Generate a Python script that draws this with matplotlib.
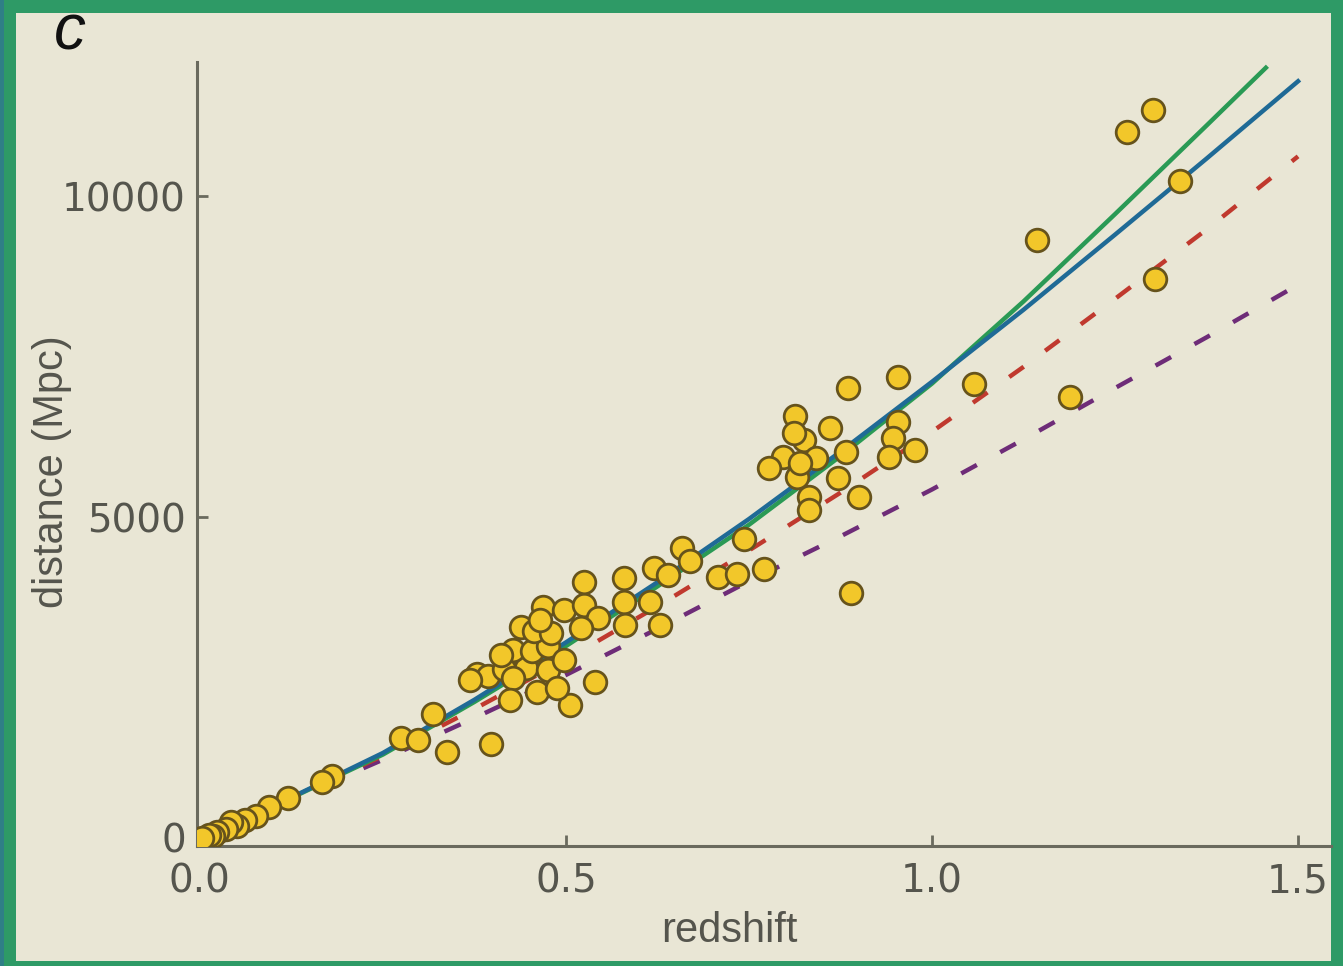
import numpy as np
import matplotlib
matplotlib.use("Agg")
import matplotlib.pyplot as plt
from matplotlib.patches import Rectangle

plt.rcParams["font.family"] = ["Liberation Sans", "DejaVu Sans"]

# ---- supernova sample: redshift vs luminosity distance (Mpc) ----
sn_z = [0.181, 0.167, 0.120, 0.094, 0.077, 0.061, 0.050, 0.043, 0.036, 0.024,
        0.018, 0.012, 0.003, 0.274, 0.298, 0.319, 0.338, 0.397, 0.506, 0.379,
        0.393, 0.415, 0.445, 0.475, 0.427, 0.424, 0.461, 0.540, 0.428, 0.454,
        0.476, 0.497, 0.438, 0.456, 0.479, 0.469, 0.497, 0.524, 0.524, 0.544,
        0.579, 0.579, 0.581, 0.615, 0.629, 0.620, 0.640, 0.658, 0.670, 0.707,
        0.734, 0.743, 0.771, 0.813, 0.861, 0.825, 0.797, 0.841, 0.777, 0.816,
        0.883, 0.872, 0.900, 0.832, 0.832, 0.885, 0.954, 1.057, 0.953, 0.947,
        0.941, 0.977, 0.889, 1.143, 1.266, 1.302, 1.339, 1.305, 1.189, 0.811,
        0.820, 0.411, 0.465, 0.520, 0.369, 0.488]
sn_d = [966, 872, 623, 483, 343, 280, 187, 249, 140, 93,
        31, 47, 0, 1558, 1526, 1931, 1340, 1464, 2072, 2554,
        2523, 2632, 2648, 2617, 2492, 2150, 2274, 2430, 2928, 2913,
        2991, 2773, 3287, 3224, 3193, 3598, 3551, 3629, 3987, 3427,
        3676, 4050, 3318, 3676, 3318, 4205, 4096, 4517, 4315, 4065,
        4112, 4657, 4190, 6573, 6386, 6199, 5934, 5919, 5763, 5623,
        6012, 5607, 5311, 5311, 5109, 7009, 7181, 7071, 6480, 6230,
        5934, 6043, 3816, 9314, 10997, 11339, 10233, 8707, 6869, 6308,
        5841, 2850, 3396, 3271, 2461, 2336]

# ---- model curves ----
model_z = [0.0, 0.125, 0.25, 0.375, 0.5, 0.625, 0.75, 0.875, 1.0, 1.125,
           1.25, 1.375, 1.5]
blue_d = [0, 632, 1325, 2154, 3048, 3985, 4970, 6020, 7108, 8230,
          9400, 10585, 11790]
red_d = [0, 620, 1280, 2010, 2780, 3610, 4480, 5380, 6330, 7340,
         8400, 9480, 10620]
purple_d = [0, 600, 1220, 1870, 2540, 3260, 4000, 4700, 5430, 6210,
            7010, 7800, 8620]
green_z = [0.0, 0.125, 0.25, 0.375, 0.5, 0.625, 0.75, 0.875, 1.0, 1.125,
           1.25, 1.375, 1.456]
green_d = [0, 625, 1300, 2120, 2990, 3920, 4880, 5950, 7080, 8360,
           9720, 11100, 12000]

x_ticks = [0.0, 0.5, 1.0, 1.5]
y_ticks = [0, 5000, 10000]

bg = "#E9E6D5"
frame = "#2E9A66"
axis_grey = "#6A6A5E"
text_grey = "#55554D"

fig = plt.figure(figsize=(13.43, 9.66), dpi=100, facecolor=frame)
W, H = 1343, 966
fig.patches.append(Rectangle((0, 0), 4 / W, 1, transform=fig.transFigure,
                             facecolor="#2F7F86", edgecolor="none", zorder=-5))
fig.patches.append(Rectangle((16 / W, 5 / H), (1331 - 16) / W, (953 - 5) / H,
                             transform=fig.transFigure, facecolor=bg,
                             edgecolor="none", zorder=-5))

ax = fig.add_axes([197 / W, (966 - 846) / H, (1331 - 197) / W, (846 - 62) / H])
ax.set_facecolor("none")

ax.plot(model_z, purple_d, color="#6E2C78", lw=3.2, ls=(0, (4, 6)), zorder=2)
ax.plot(model_z, red_d, color="#C0392E", lw=3.2, ls=(0, (4, 6)), zorder=2)
ax.plot(green_z, green_d, color="#2A9A55", lw=3.2, zorder=3)
ax.plot(model_z, blue_d, color="#1F6A96", lw=3.2, zorder=3)

ax.scatter(sn_z, sn_d, s=265, facecolor="#F2C72A", edgecolor="#66531C",
           linewidth=2.0, zorder=4)

ax.set_xlim(-0.004, 1.545)
ax.set_ylim(-125, 12090)

ax.spines["top"].set_visible(False)
ax.spines["right"].set_visible(False)
for side in ["left", "bottom"]:
    ax.spines[side].set_color(axis_grey)
    ax.spines[side].set_linewidth(2.2)

ax.set_xticks(x_ticks)
ax.set_xticklabels([f"{v:.1f}" for v in x_ticks])
ax.set_yticks(y_ticks)
ax.set_yticklabels([str(v) for v in y_ticks])
ax.tick_params(direction="in", length=8, width=2, color=axis_grey,
               labelcolor=text_grey, labelsize=28)
ax.tick_params(axis="x", pad=12)
ax.tick_params(axis="y", pad=8)
for lab in ax.get_xticklabels() + ax.get_yticklabels():
    lab.set_family("DejaVu Sans")

ax.set_xlabel("redshift", fontsize=30, color=text_grey)
ax.xaxis.set_label_coords(0.469, -0.083)
ax.set_ylabel("distance (Mpc)", fontsize=30, color=text_grey)
ax.yaxis.set_label_coords(-0.110, 0.477)

fig.text(70 / W, 1 - 32 / H, "c", fontsize=46, style="italic",
         ha="center", va="center", color="#111111")

fig.savefig("out.png", dpi=100, facecolor=frame)
